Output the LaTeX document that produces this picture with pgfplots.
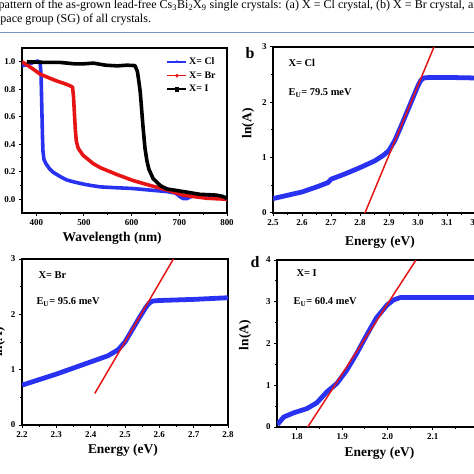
\documentclass[border=0pt]{standalone}
\usepackage{pgfplots}
\pgfplotsset{compat=1.18}
\usepackage{fontspec}
\setmainfont{Liberation Serif}
\definecolor{myblue}{RGB}{40,50,240}
\definecolor{myred}{RGB}{230,20,20}
\definecolor{rulecol}{RGB}{120,150,200}
\pgfplotsset{
  every axis/.append style={
    scale only axis, anchor=south west,
    axis line style={line width=1.5pt},
    tick align=outside, xtick pos=left, ytick pos=left,
    major tick length=3bp, minor tick length=2bp,
    every tick/.style={line width=1pt, black},
    tick label style={font=\bfseries\fontsize{9}{9}\selectfont},
    label style={font=\bfseries\fontsize{13.5}{14}\selectfont},
    /pgf/number format/assume math mode=true,
  },
  every axis y label/.style={rotate=90, anchor=center},
  every axis x label/.style={anchor=center},
}
\newcommand{\ann}{\bfseries\fontsize{10.5}{11}\selectfont}
\begin{document}
\begin{tikzpicture}
\path[use as bounding box] (0,0) rectangle (474bp,474bp);
\clip (0,0) rectangle (474bp,474bp);
% caption
\node[anchor=base west, inner sep=0, font=\fontsize{12.1}{13}\selectfont] at (-1.5bp,465bp)
  {pattern of the as-grown lead-free Cs\textsubscript{3}Bi\textsubscript{2}X\textsubscript{9} single crystals: (a) X = Cl crystal, (b) X = Br crystal, and};
\node[anchor=base west, inner sep=0, font=\fontsize{12.1}{13}\selectfont] at (-4.5bp,451bp)
  {space group (SG) of all crystals.};
\draw[rulecol, line width=0.8bp] (0,442bp) -- (474bp,442bp);

% ---------- panel a ----------
\begin{axis}[at={(22bp,261bp)}, width=205bp, height=165bp,
  xmin=370, xmax=800, ymin=-0.1, ymax=1.1,
  xtick={400,500,600,700,800}, minor x tick num=1,
  ytick={0,0.2,0.4,0.6,0.8,1.0}, minor y tick num=1,
  yticklabel style={/pgf/number format/.cd, fixed, fixed zerofill, precision=1},
  xlabel={Wavelength (nm)},
  xlabel style={at={(axis description cs:0.44,-0.152)}},
  legend style={at={(axis description cs:0.96,0.96)}, anchor=north east, draw=none, fill=none,
    font=\bfseries\fontsize{10}{10}\selectfont, row sep=1.5pt, inner sep=1pt},
  legend cell align=left,
  legend image code/.code={\draw[#1, line width=1.5pt] (0bp,0bp) -- (19bp,0bp);
     \draw[#1, only marks, mark size=1.6pt] plot coordinates {(9.5bp,0bp)};},
]
\addlegendimage{myblue, mark=triangle*}
\addlegendimage{myred, mark=*}
\addlegendimage{black, mark=square*}
\addplot[myblue, line width=3.6pt, line join=round, mark=none, forget plot] coordinates {
(370,0.97) (380,0.98) (390,0.99) (398,1.0) (403,1.005) (408,0.995) (410,0.90)
(411,0.75) (412,0.6) (413,0.45) (414,0.35) (416,0.29) (420,0.26) (428,0.22)
(436,0.195) (450,0.165) (464,0.14) (480,0.125) (499,0.11) (515,0.10) (534,0.09)
(560,0.085) (603,0.078) (640,0.066) (674,0.056) (692,0.045) (701,0.02) (708,0.005)
(716,0.005) (722,0.015) (729,0.025) (745,0.02) (758,0.02) (770,0.028) (780,0.025) (790,0.015) (800,0.0)};
\addplot[myred, line width=3.6pt, line join=round, mark=none, forget plot] coordinates {
(370,1.0) (390,0.955) (408,0.91) (425,0.885) (443,0.86) (460,0.84) (471,0.825) (476,0.815)
(478,0.75) (480,0.62) (482,0.50) (484,0.42) (488,0.37) (498,0.32) (519,0.26)
(534,0.23) (569,0.18) (603,0.136) (639,0.10) (674,0.068) (708,0.03) (729,0.02)
(758,0.007) (800,0.0)};
\addplot[black, line width=3.6pt, line join=round, mark=none, forget plot] coordinates {
(380,1.0) (420,0.995) (450,0.995) (480,0.985) (500,0.985) (520,0.99) (545,0.975)
(570,0.97) (590,0.975) (607,0.972) (612,0.93) (615,0.86) (618,0.78) (621,0.65)
(624,0.52) (628,0.37) (632,0.28) (636,0.22) (645,0.15) (660,0.10) (674,0.075)
(708,0.056) (743,0.036) (778,0.03) (792,0.02) (800,0.005)};
\legend{X= Cl, X= Br, X= I}
\end{axis}

% ---------- panel b ----------
\begin{axis}[at={(273bp,261bp)}, width=203bp, height=166bp,
  xmin=2.5, xmax=3.2, ymin=0, ymax=3,
  xtick={2.5,2.6,2.7,2.8,2.9,3.0,3.1,3.2}, minor x tick num=1,
  ytick={0,1,2,3}, minor y tick num=1,
  xticklabel style={/pgf/number format/.cd, fixed, fixed zerofill, precision=1},
  xlabel={Energy (eV)}, ylabel={ln(A)},
  xlabel style={at={(axis description cs:0.527,-0.175)}},
  ylabel style={at={(axis description cs:-0.123,0.54)}},
]
\addplot[myblue, line width=4.8pt, line join=round] coordinates {
(2.50,0.26) (2.55,0.32) (2.60,0.38) (2.65,0.47) (2.69,0.55) (2.70,0.61) (2.75,0.71)
(2.80,0.82) (2.85,0.94) (2.88,1.04) (2.90,1.13) (2.92,1.31) (2.94,1.55) (2.96,1.80)
(2.98,2.05) (3.00,2.30) (3.01,2.40) (3.02,2.44) (3.04,2.45) (3.10,2.45) (3.20,2.44)};
\addplot[myred, line width=1.5pt] coordinates {(2.817,0) (3.055,3)};
\end{axis}

% ---------- panel c ----------
\begin{axis}[at={(22bp,49bp)}, width=206bp, height=166bp,
  xmin=2.2, xmax=2.8, ymin=0, ymax=3,
  xtick={2.2,2.3,2.4,2.5,2.6,2.7,2.8}, minor x tick num=1,
  ytick={0,1,2,3}, minor y tick num=1,
  xticklabel style={/pgf/number format/.cd, fixed, fixed zerofill, precision=1},
  xlabel={Energy (eV)}, ylabel={ln(A)},
  xlabel style={at={(axis description cs:0.49,-0.15)}},
  ylabel style={at={(axis description cs:-0.112,0.5)}},
]
\addplot[myblue, line width=4.8pt, line join=round] coordinates {
(2.20,0.72) (2.25,0.82) (2.30,0.92) (2.35,1.03) (2.40,1.14) (2.45,1.25) (2.48,1.36)
(2.50,1.50) (2.52,1.71) (2.54,1.92) (2.56,2.12) (2.57,2.20) (2.58,2.24) (2.60,2.25)
(2.70,2.27) (2.80,2.30)};
\addplot[myred, line width=1.5pt] coordinates {(2.412,0.57) (2.641,3.0)};
\end{axis}

% ---------- panel d ----------
\begin{axis}[at={(277bp,47bp)}, width=201bp, height=167bp,
  xmin=1.756, xmax=2.2, ymin=0, ymax=4,
  xtick={1.8,1.9,2.0,2.1}, minor xtick={1.85,1.95,2.05,2.15},
  ytick={0,1,2,3,4}, minor y tick num=1,
  xticklabel style={/pgf/number format/.cd, fixed, fixed zerofill, precision=1},
  xlabel={Energy (eV)}, ylabel={ln(A)},
  xlabel style={at={(axis description cs:0.51,-0.156)}},
  ylabel style={at={(axis description cs:-0.159,0.55)}},
]
\addplot[myblue, line width=4.8pt, line join=round] coordinates {
(1.757,0.06) (1.771,0.24) (1.793,0.34) (1.822,0.44) (1.844,0.58) (1.866,0.84)
(1.888,1.04) (1.910,1.36) (1.932,1.76) (1.954,2.20) (1.976,2.62) (1.999,2.92)
(2.013,3.04) (2.028,3.10) (2.10,3.10) (2.20,3.10)};
\addplot[myred, line width=1.5pt] coordinates {(1.824,0) (2.063,4)};
\end{axis}

% annotations
\node[anchor=west, font=\ann] at (285bp,411bp) {X= Cl};
\node[anchor=west, font=\ann] at (285bp,381bp) {E\textsubscript{U}= 79.5 meV};
\node[anchor=west, font=\ann] at (35bp,199bp) {X= Br};
\node[anchor=west, font=\ann] at (33bp,172bp) {E\textsubscript{U}= 95.6 meV};
\node[anchor=west, font=\ann] at (293bp,201bp) {X= I};
\node[anchor=west, font=\ann] at (290bp,172bp) {E\textsubscript{U}= 60.4 meV};
\node[font=\bfseries\fontsize{16}{16}\selectfont] at (250bp,421bp) {b};
\node[font=\bfseries\fontsize{16}{16}\selectfont] at (255bp,212bp) {d};
\end{tikzpicture}
\end{document}
